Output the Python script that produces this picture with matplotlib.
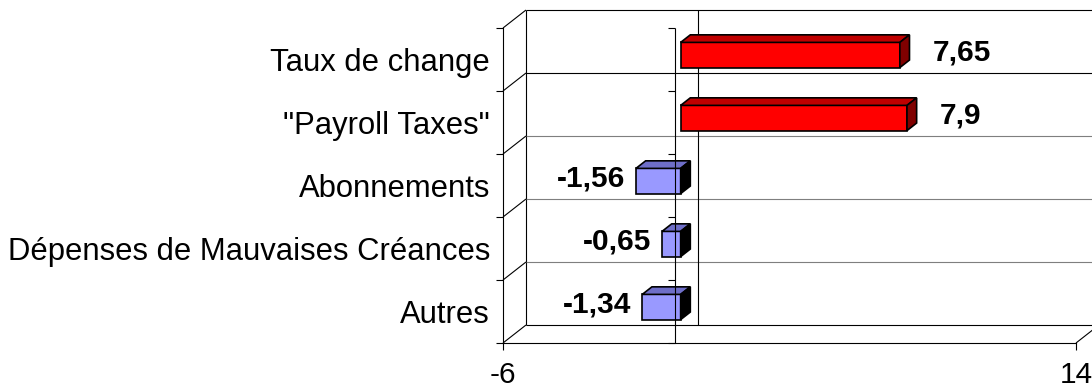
import matplotlib.pyplot as plt
from matplotlib.patches import Polygon
from matplotlib.markers import TICKLEFT
import numpy as np

categories = ["Taux de change", '"Payroll Taxes"', "Abonnements",
              "Dépenses de Mauvaises Créances", "Autres"]
values = [7.65, 7.9, -1.56, -0.65, -1.34]
value_labels = ["7,65", "7,9", "-1,56", "-0,65", "-1,34"]
x_ticks = [-6, 14]
x_tick_labels = ["-6", "14"]

plt.rcParams['font.family'] = ['Liberation Sans', 'DejaVu Sans']

n = len(categories)
ypos = n - 1 - np.arange(n) + 0.5

fig = plt.figure(figsize=(10.92, 3.89), dpi=100)
ax = fig.add_axes([503 / 1092, 46 / 389, 573 / 1092, 315 / 389])
ax.set_xlim(x_ticks[0], x_ticks[-1])
ax.set_ylim(0, n)
ax.set_facecolor('none')

# depth of the oblique 3d box, in pixels -> data units
p0 = ax.transData.transform((0, 0))
ddx, ddy = ax.transData.inverted().transform(p0 + np.array([23, 18]) * fig.dpi / 100)


def P(x, y, d):
    return (x + d * ddx, y + d * ddy)


def seg(pts, color='k', lw=0.8, z=1):
    xs, ys = zip(*pts)
    ax.plot(xs, ys, color=color, lw=lw, clip_on=False, zorder=z,
            solid_capstyle='butt')


xa, xb = x_ticks[0], x_ticks[-1]
# back wall + left wall
seg([P(xa, n, 1), P(xb, n, 1)])
seg([P(xa, 0, 1), P(xa, n, 1)])
seg([P(xb, 0, 1), P(xb, n, 1)])
for k in range(1, n):
    seg([P(xa, k, 1), P(xb, k, 1)], color='k' if k == n - 1 else '#7f7f7f')
for k in range(n + 1):
    seg([P(xa, k, 0), P(xa, k, 1)])
# floor
seg([P(xa, 0, 1), P(xb, 0, 1)])
seg([P(xb, 0, 0), P(xb, 0, 1)])
# zero lines (front one is drawn over the bars, like excel does)
seg([P(0, 0, 0), P(0, n, 0)], z=4)
seg([P(0, 0, 1), P(0, n, 1)])
ax.plot([0] * (n + 1), range(n + 1), ls='none', marker=TICKLEFT, ms=5,
        mew=0.8, color='k', clip_on=False, zorder=4)

# bars
h = 0.2
f0, f1 = 0.25, 0.67
for yc, v, lab in zip(ypos, values, value_labels):
    if v >= 0:
        cf, ct, cs = '#ff0000', '#c00000', '#800000'
    else:
        cf, ct, cs = '#9999ff', '#6e6ec8', '#000000'
    x0, x1 = min(0, v), max(0, v)
    front = [P(x0, yc - h, f0), P(x1, yc - h, f0), P(x1, yc + h, f0), P(x0, yc + h, f0)]
    top = [P(x0, yc + h, f0), P(x1, yc + h, f0), P(x1, yc + h, f1), P(x0, yc + h, f1)]
    side = [P(x1, yc - h, f0), P(x1, yc - h, f1), P(x1, yc + h, f1), P(x1, yc + h, f0)]
    for pts, c in ((front, cf), (top, ct), (side, cs)):
        ax.add_patch(Polygon(pts, closed=True, facecolor=c, edgecolor='k',
                             lw=1.2, zorder=3, clip_on=False, joinstyle='miter'))
    if v >= 0:
        ax.annotate(lab, (v, yc), xytext=(39, -1), textcoords='offset pixels',
                    ha='left', va='baseline', fontsize=21.5, fontweight='bold')
    else:
        ax.annotate(lab, (v, yc), xytext=(-5, -1), textcoords='offset pixels',
                    ha='right', va='baseline', fontsize=21.5, fontweight='bold')

# axes
for s in ('top', 'right'):
    ax.spines[s].set_visible(False)
for s in ('left', 'bottom'):
    ax.spines[s].set_linewidth(0.8)
ax.set_xticks(x_ticks)
ax.set_xticklabels(x_tick_labels, fontsize=21.5)
ax.tick_params(axis='x', direction='out', length=5, width=0.8, pad=8)
ax.set_yticks(range(n + 1))
ax.set_yticklabels([])
ax.tick_params(axis='y', which='major', direction='out', length=5, width=0.8)
ax.set_yticks(ypos, minor=True)
ax.set_yticklabels(categories, minor=True, fontsize=22.3)
ax.tick_params(axis='y', which='minor', length=0, pad=9.4)

fig.savefig('out.png', dpi=100)
